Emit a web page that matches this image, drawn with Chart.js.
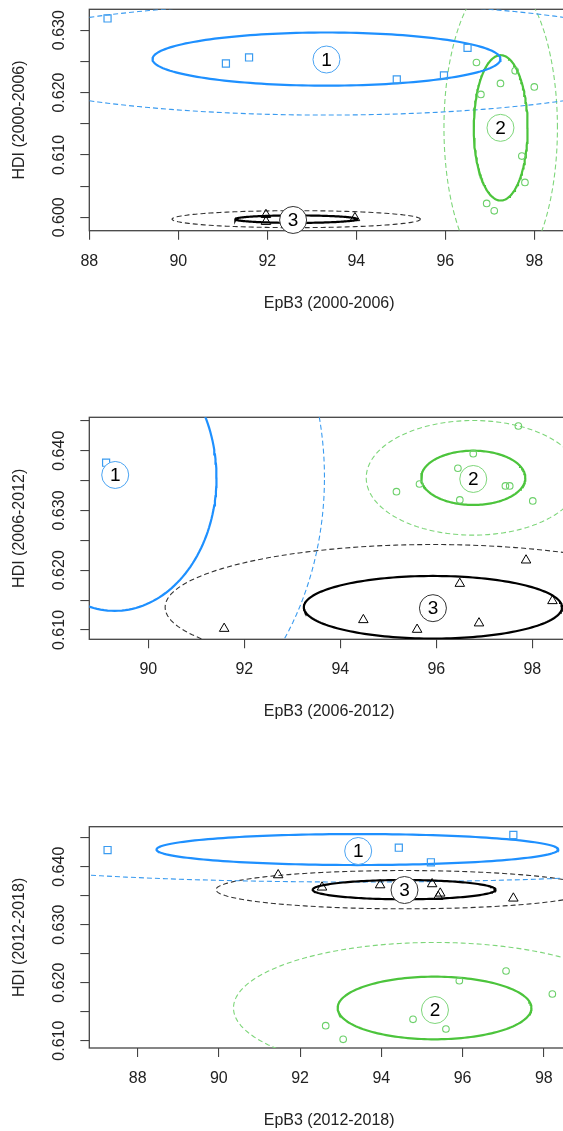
<!DOCTYPE html>
<html><head><meta charset="utf-8">
<script src="https://cdn.jsdelivr.net/npm/chart.js@4.4.1/dist/chart.umd.min.js"></script>
<style>
html,body{margin:0;padding:0;background:#fff;overflow:hidden;width:563px;height:1131px;position:relative}
canvas{position:absolute;left:0}
</style></head><body>
<canvas id="p1" width="600" height="360" style="top:-20px"></canvas>
<canvas id="p2" width="600" height="360" style="top:380px"></canvas>
<canvas id="p3" width="600" height="341" style="top:790px"></canvas>
<script>
// ---------- Panel 1 : 2000-2006 ----------
const p1SquareX = [88.41, 91.07, 91.59, 94.91, 95.97, 96.50];
const p1SquareY = [0.63188, 0.62466, 0.62563, 0.62210, 0.62274, 0.62717];
const p1CircleX = [96.70, 97.57, 97.24, 98.00, 96.80, 97.72, 97.79, 96.93, 97.10];
const p1CircleY = [0.62482, 0.62348, 0.62146, 0.62091, 0.61970, 0.60981, 0.60559, 0.60222, 0.60104];
const p1TriangleX = [91.97, 91.97, 93.97];
const p1TriangleY = [0.6004, 0.5993, 0.5999];
const p1CenterX = [93.33, 97.245, 92.65];
const p1CenterY = [0.62537, 0.61434, 0.59970];
const p1InnerA = [3.91, 0.605, 1.375];
const p1InnerB = [0.00426, 0.01165, 0.0006];
const p1OuterA = [7.98, 1.275, 2.79];
const p1OuterB = [0.00898, 0.0240, 0.00136];
const p1LabelX = [93.33, 97.24, 92.58];
const p1LabelY = [0.62530, 0.61434, 0.59957];

// ---------- Panel 2 : 2006-2012 ----------
const p2SquareX = [89.12];
const p2SquareY = [0.63799];
const p2CircleX = [97.71, 96.77, 96.45, 95.65, 95.17, 97.44, 97.53, 96.49, 98.01];
const p2CircleY = [0.64413, 0.63950, 0.63706, 0.63443, 0.63314, 0.63410, 0.63410, 0.63176, 0.63159];
const p2TriangleX = [91.58, 94.48, 95.60, 96.49, 96.89, 97.87, 98.42];
const p2TriangleY = [0.61023, 0.61169, 0.61007, 0.61776, 0.61114, 0.62167, 0.61487];
const p2CenterX = [89.30, 96.77, 95.93];
const p2CenterY = [0.63550, 0.63546, 0.61380];
const p2InnerA = [2.12, 1.085, 2.69];
const p2InnerB = [0.0223, 0.00454, 0.00524];
const p2OuterA = [4.37, 2.23, 5.58];
const p2OuterB = [0.0459, 0.00959, 0.0105];
const p2LabelX = [89.31, 96.77, 95.93];
const p2LabelY = [0.63594, 0.63527, 0.61365];

// ---------- Panel 3 : 2012-2018 ----------
const p3SquareX = [87.26, 94.43, 95.22, 97.25];
const p3SquareY = [0.64288, 0.64328, 0.64076, 0.64547];
const p3CircleX = [92.63, 93.06, 94.78, 95.59, 95.92, 97.07, 98.21];
const p3CircleY = [0.61259, 0.61024, 0.61369, 0.61202, 0.62034, 0.62202, 0.61805];
const p3TriangleX = [91.46, 92.54, 93.97, 95.25, 95.45, 95.40, 97.25];
const p3TriangleY = [0.63857, 0.63645, 0.63684, 0.63702, 0.63541, 0.63483, 0.63455];
const p3CenterX = [93.41, 95.31, 94.56];
const p3CenterY = [0.64296, 0.61564, 0.63604];
const p3InnerA = [4.945, 2.385, 2.25];
const p3InnerB = [0.00267, 0.0054, 0.00166];
const p3OuterA = [10.75, 4.95, 4.63];
const p3OuterB = [0.0056, 0.0113, 0.0033];
const p3LabelX = [93.43, 95.32, 94.57];
const p3LabelY = [0.64271, 0.61529, 0.63598];

const clusterLabels = ['1', '2', '3'];
const xTitles = ['EpB3 (2000-2006)', 'EpB3 (2006-2012)', 'EpB3 (2012-2018)'];
const yTitles = ['HDI (2000-2006)', 'HDI (2006-2012)', 'HDI (2012-2018)'];

// ---------- styling ----------
const FONT = '"Liberation Sans", Arial, Helvetica, sans-serif';
const BLUE = '#1E90FF';
const GREEN = '#4CC43C';
const LGREEN = '#7ED67A';
const BLACK = '#000000';
const clusterColors = [BLUE, GREEN, BLACK];
const pointColors = ['#3A9BF0', '#6CD06A', '#000000'];
const dashColors = ['#3A9BF0', '#7ED67A', '#333333'];

Chart.defaults.font.family = FONT;
Chart.defaults.font.size = 16;
Chart.defaults.color = '#222';

function zip(xs, ys) { return xs.map((x, i) => ({x: x, y: ys[i]})); }
function ellipse(cx, cy, a, b) {
  const pts = [];
  const n = 180;
  for (let i = 0; i <= n; i++) {
    const t = i / n * 2 * Math.PI;
    pts.push({x: cx + a * Math.cos(t), y: cy + b * Math.sin(t)});
  }
  return pts;
}

const boxPlugin = {
  id: 'box',
  beforeDatasetsDraw(chart) {
    const a = chart.chartArea, ctx = chart.ctx;
    ctx.save();
    ctx.strokeStyle = '#444';
    ctx.lineWidth = 1.3;
    ctx.strokeRect(a.left, a.top, a.right - a.left, a.bottom - a.top);
    ctx.restore();
  },
  afterDatasetsDraw(chart) {
    const ctx = chart.ctx;
    chart.data.datasets.forEach((ds, di) => {
      if (!ds.isLabel) return;
      const meta = chart.getDatasetMeta(di);
      ctx.save();
      ctx.fillStyle = '#000';
      ctx.font = '19px ' + FONT;
      ctx.textAlign = 'center';
      ctx.textBaseline = 'middle';
      meta.data.forEach((el, i) => {
        ctx.fillText(clusterLabels[i], el.x, el.y + 1);
      });
      ctx.restore();
    });
  }
};

function buildPanel(id, p) {
  const datasets = [];
  // circled labels (drawn on top)
  datasets.push({
    isLabel: true,
    data: zip(p.labelX, p.labelY),
    pointStyle: 'circle', pointRadius: 13.5,
    pointBackgroundColor: '#fff',
    pointBorderColor: ['#4AA3F2', '#7ED67A', '#333'],
    pointBorderWidth: 1,
    clip: false, order: 0
  });
  // points
  datasets.push({data: zip(p.sqX, p.sqY), pointStyle: 'rect', pointRadius: 5,
    pointBorderColor: pointColors[0], pointBackgroundColor: 'rgba(0,0,0,0)', pointBorderWidth: 1.2, order: 1});
  datasets.push({data: zip(p.ciX, p.ciY), pointStyle: 'circle', pointRadius: 3.3,
    pointBorderColor: pointColors[1], pointBackgroundColor: 'rgba(0,0,0,0)', pointBorderWidth: 1.1, order: 1});
  datasets.push({data: zip(p.trX, p.trY), pointStyle: 'triangle', pointRadius: 5.5,
    pointBorderColor: pointColors[2], pointBackgroundColor: 'rgba(0,0,0,0)', pointBorderWidth: 1, order: 1});
  // ellipses
  for (let k = 0; k < 3; k++) {
    datasets.push({data: ellipse(p.cx[k], p.cy[k], p.inA[k], p.inB[k]), showLine: true, pointRadius: 0,
      borderColor: clusterColors[k], borderWidth: 2.2, fill: false, tension: 0, order: 2});
    datasets.push({data: ellipse(p.cx[k], p.cy[k], p.outA[k], p.outB[k]), showLine: true, pointRadius: 0,
      borderColor: dashColors[k], borderWidth: 1.1, borderDash: [5, 3], fill: false, tension: 0, order: 3});
  }
  const H = document.getElementById(id).height;
  const padTop = p.areaTop - p.canvasTop;
  const areaBottom = p.areaBottom - p.canvasTop;
  const xAxisH = H - areaBottom;
  const titleCenter = areaBottom + 72.5;
  new Chart(document.getElementById(id), {
    type: 'scatter',
    data: {datasets: datasets},
    plugins: [boxPlugin],
    options: {
      responsive: false, animation: false, devicePixelRatio: 1,
      layout: {padding: {top: padTop, right: 31, bottom: 0, left: 0}},
      plugins: {legend: {display: false}, tooltip: {enabled: false}},
      elements: {point: {hitRadius: 0}},
      scales: {
        x: {
          type: 'linear', min: p.xMin, max: p.xMax,
          afterFit(s) { s.height = xAxisH; },
          border: {display: false},
          grid: {drawOnChartArea: false, drawTicks: true, tickLength: 9, color: '#444', lineWidth: 1.1},
          ticks: {stepSize: 2, includeBounds: false, autoSkip: false, maxRotation: 0, padding: 12,
            color: '#222', font: {size: 16}, callback: v => String(Math.round(v))},
          title: {display: true, text: p.xTitle, color: '#222', font: {size: 16},
            padding: {top: 0, bottom: H - titleCenter - 9.6}}
        },
        y: {
          type: 'linear', min: p.yMin, max: p.yMax,
          afterFit(s) { s.width = 89.3; },
          border: {display: false},
          grid: {drawOnChartArea: false, drawTicks: true, tickLength: 9, color: '#444', lineWidth: 1.1},
          ticks: {stepSize: 0.005, includeBounds: false, autoSkip: false, minRotation: 90, maxRotation: 90,
            crossAlign: 'center', padding: 1, color: '#222', font: {size: 16},
            callback: v => { const k = Math.round(v * 1000); return k % 10 === 0 ? (k / 1000).toFixed(3) : ''; }},
          title: {display: true, text: p.yTitle, color: '#222', font: {size: 16},
            padding: {top: 10.4, bottom: 0}}
        }
      }
    }
  });
}

buildPanel('p1', {canvasTop: -20, areaTop: 9.3, areaBottom: 230.7,
  xMin: 88, xMax: 98.78, yMin: 0.59785, yMax: 0.63335, xTitle: xTitles[0], yTitle: yTitles[0],
  sqX: p1SquareX, sqY: p1SquareY, ciX: p1CircleX, ciY: p1CircleY, trX: p1TriangleX, trY: p1TriangleY,
  cx: p1CenterX, cy: p1CenterY, inA: p1InnerA, inB: p1InnerB, outA: p1OuterA, outB: p1OuterB,
  labelX: p1LabelX, labelY: p1LabelY});
buildPanel('p2', {canvasTop: 380, areaTop: 417.3, areaBottom: 639.3,
  xMin: 88.77, xMax: 98.765, yMin: 0.60844, yMax: 0.64559, xTitle: xTitles[1], yTitle: yTitles[1],
  sqX: p2SquareX, sqY: p2SquareY, ciX: p2CircleX, ciY: p2CircleY, trX: p2TriangleX, trY: p2TriangleY,
  cx: p2CenterX, cy: p2CenterY, inA: p2InnerA, inB: p2InnerB, outA: p2OuterA, outB: p2OuterB,
  labelX: p2LabelX, labelY: p2LabelY});
buildPanel('p3', {canvasTop: 790, areaTop: 826.7, areaBottom: 1048,
  xMin: 86.81, xMax: 98.62, yMin: 0.60874, yMax: 0.6469, xTitle: xTitles[2], yTitle: yTitles[2],
  sqX: p3SquareX, sqY: p3SquareY, ciX: p3CircleX, ciY: p3CircleY, trX: p3TriangleX, trY: p3TriangleY,
  cx: p3CenterX, cy: p3CenterY, inA: p3InnerA, inB: p3InnerB, outA: p3OuterA, outB: p3OuterB,
  labelX: p3LabelX, labelY: p3LabelY});
</script>
</body></html>
